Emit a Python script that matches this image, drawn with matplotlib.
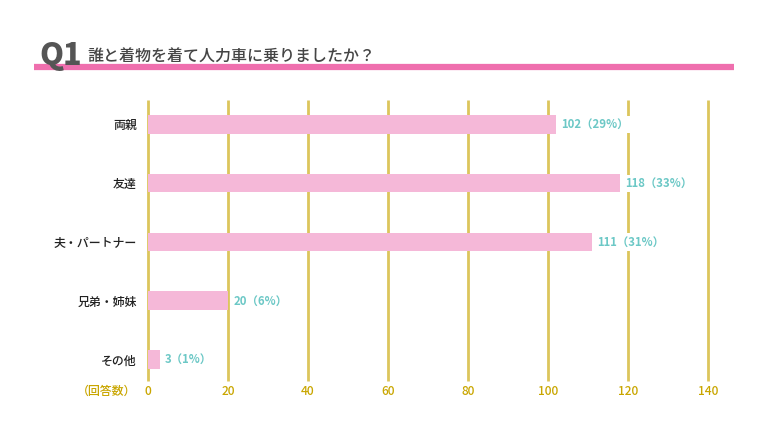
import matplotlib
matplotlib.use("Agg")
import matplotlib.pyplot as plt

plt.rcParams["font.family"] = ["Noto Sans CJK JP", "DejaVu Sans"]

# data
categories = ["両親", "友達", "夫・パートナー", "兄弟・姉妹", "その他"]
counts = [102, 118, 111, 20, 3]
percents = [29, 33, 31, 6, 1]
xticks = [0, 20, 40, 60, 80, 100, 120, 140]

BAR_PINK = "#f5b8d8"
GRID_GOLD = "#dcc55c"
TICK_GOLD = "#c9a600"
TEAL = "#6cc8c6"
TITLE_PINK = "#ef6fae"

fig = plt.figure(figsize=(7.68, 4.32), dpi=100)
ax = fig.add_axes([148 / 768, 1 - 381 / 432, 560 / 768, 281 / 432])

ypos = list(range(len(categories)))
ax.vlines(xticks, -0.41, 4.36, color=GRID_GOLD, lw=2, zorder=1, clip_on=False)
ax.barh(ypos, counts, height=0.32, color=BAR_PINK, zorder=2)

# value labels sit on a white box so the grid line is hidden behind them
for y, c, p in zip(ypos, counts, percents):
    ax.text(c + 1.3, y, f"{c}（{p}%）", color=TEAL, fontsize=8.2,
            fontweight="bold", va="center", ha="left", zorder=3,
            bbox=dict(facecolor="white", edgecolor="none", pad=1.5))

ax.set_xlim(0, 140)
ax.set_ylim(4.36, -0.41)
ax.set_yticks(ypos)
ax.set_yticklabels(categories, fontsize=8.6, color="#222222", fontweight="medium")
ax.set_xticks(xticks)
ax.set_xticklabels([str(t) for t in xticks], fontsize=8.6, color=TICK_GOLD,
                   fontweight="medium")
ax.tick_params(axis="both", length=0)
ax.tick_params(axis="x", pad=3)
ax.tick_params(axis="y", pad=8)
for s in ax.spines.values():
    s.set_visible(False)

fig.text(136 / 768, 1 - 391 / 432, "（回答数）", color=TICK_GOLD, fontsize=8.6,
         fontweight="medium", ha="right", va="center")

# title
fig.add_artist(plt.Line2D([34 / 768, 734 / 768], [1 - 66.5 / 432] * 2,
                          color=TITLE_PINK, lw=4.5, solid_capstyle="butt"))
fig.text(39 / 768, 1 - 65 / 432, "Q1", fontsize=22, fontweight="heavy",
         color="#555555", ha="left", va="baseline")
fig.text(87 / 768, 1 - 62 / 432, "誰と着物を着て人力車に乗りましたか？", fontsize=11.5,
         color="#444444", fontweight="medium", ha="left", va="baseline")

fig.savefig("out.png", dpi=100)
